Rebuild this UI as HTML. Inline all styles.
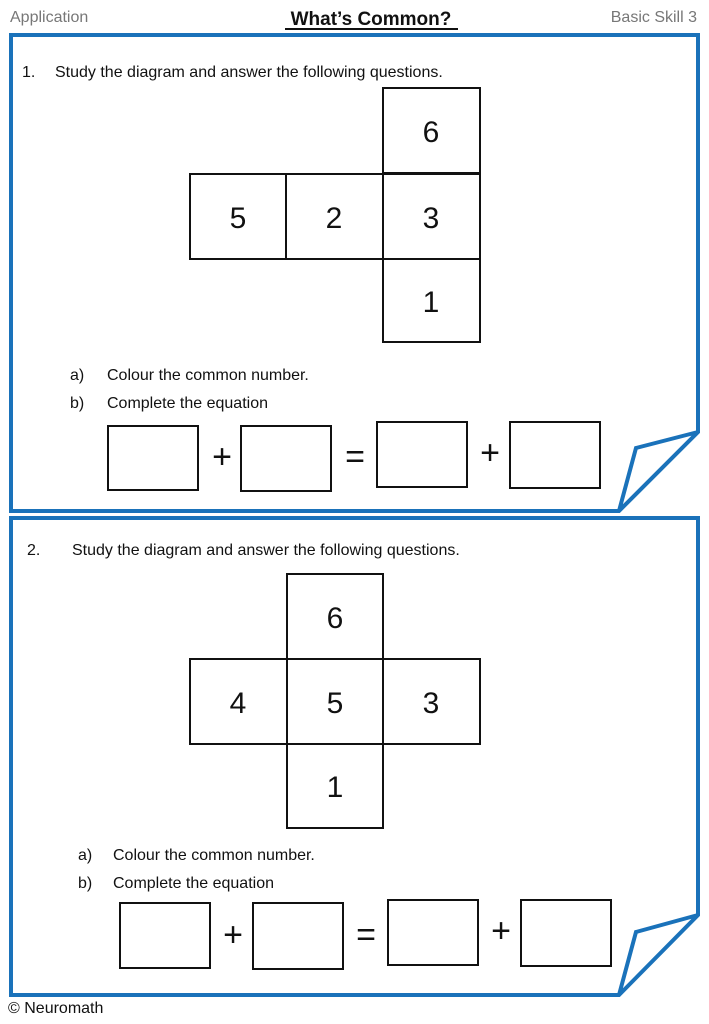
<!DOCTYPE html>
<html><head><meta charset="utf-8"><style>
html,body{margin:0;padding:0;background:#fff}
svg{display:block}
text{font-family:"Liberation Sans",sans-serif}
</style></head><body>
<svg width="709" height="1024" viewBox="0 0 709 1024" xmlns="http://www.w3.org/2000/svg">
<text x="10" y="22" font-size="16" fill="#777">Application</text>
<text x="371" y="25" font-size="19" font-weight="bold" text-anchor="middle" fill="#111">What’s Common?</text>
<line x1="285" y1="29" x2="458" y2="29" stroke="#111" stroke-width="2"/>
<text x="697" y="22" font-size="16" fill="#777" text-anchor="end">Basic Skill 3</text>

<g fill="none" stroke="#1a72ba" stroke-width="4" stroke-linejoin="miter">
<path d="M698 432 L698 35 L11 35 L11 511 L619 511 Z M619 511 L636 448 L698 432"/>
<path d="M698 915 L698 518 L11 518 L11 995 L619 995 Z M619 995 L636 932 L698 915"/>
</g>

<g font-size="16" fill="#111">
<text x="22" y="77">1.</text><text x="55" y="77">Study the diagram and answer the following questions.</text>
<text x="70" y="380">a)</text><text x="107" y="380">Colour the common number.</text>
<text x="70" y="408">b)</text><text x="107" y="408">Complete the equation</text>
<text x="27" y="555">2.</text><text x="72" y="555">Study the diagram and answer the following questions.</text>
<text x="78" y="860">a)</text><text x="113" y="860">Colour the common number.</text>
<text x="78" y="888">b)</text><text x="113" y="888">Complete the equation</text>
</g>

<g fill="none" stroke="#111" stroke-width="2">
<rect x="383" y="88" width="97" height="85"/>
<rect x="190" y="174" width="96" height="85"/>
<rect x="286" y="174" width="97" height="85"/>
<rect x="383" y="174" width="97" height="85"/>
<rect x="383" y="259" width="97" height="83"/>

<rect x="287" y="574" width="96" height="85"/>
<rect x="190" y="659" width="97" height="85"/>
<rect x="287" y="659" width="96" height="85"/>
<rect x="383" y="659" width="97" height="85"/>
<rect x="287" y="744" width="96" height="84"/>

<rect x="108" y="426" width="90" height="64"/>
<rect x="241" y="426" width="90" height="65"/>
<rect x="377" y="422" width="90" height="65"/>
<rect x="510" y="422" width="90" height="66"/>

<rect x="120" y="903" width="90" height="65"/>
<rect x="253" y="903" width="90" height="66"/>
<rect x="388" y="900" width="90" height="65"/>
<rect x="521" y="900" width="90" height="66"/>
</g>

<g font-size="30" fill="#111" text-anchor="middle">
<text x="431" y="142">6</text>
<text x="238" y="228">5</text><text x="334" y="228">2</text><text x="431" y="228">3</text>
<text x="431" y="312">1</text>
<text x="335" y="628">6</text>
<text x="238" y="713">4</text><text x="335" y="713">5</text><text x="431" y="713">3</text>
<text x="335" y="797">1</text>
</g>
<g font-size="34" fill="#111" text-anchor="middle">
<text x="222" y="468">+</text><text x="355" y="468">=</text><text x="490" y="464">+</text>
<text x="233" y="946">+</text><text x="366" y="946">=</text><text x="501" y="942">+</text>
</g>
<text x="8" y="1013" font-size="16" fill="#111">© Neuromath</text>
</svg>
</body></html>
